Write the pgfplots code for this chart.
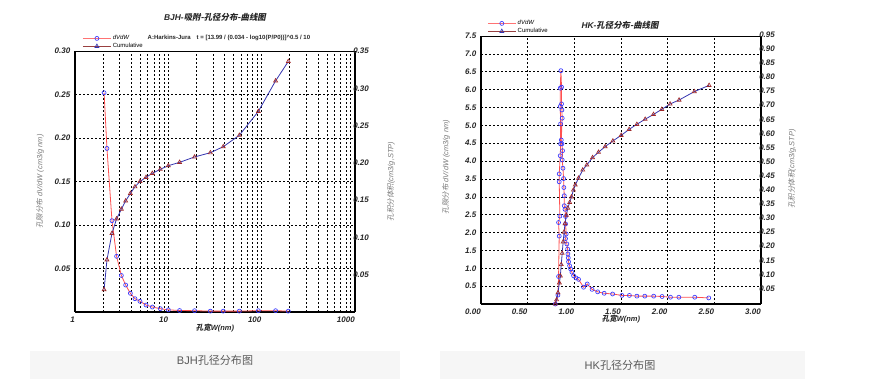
\documentclass[border=0pt]{standalone}
\usepackage{pgfplots}
\pgfplotsset{compat=1.18}
\usepackage{fontspec}
\setmainfont{Liberation Sans}
\newfontfamily\cjk{Noto Sans CJK SC}[FakeSlant=0.2]
\newfontfamily\cjkup{Noto Sans CJK SC}
\definecolor{dvred}{HTML}{FF5050}
\definecolor{dvblue}{HTML}{3A3AFF}
\definecolor{cunavy}{HTML}{3535B0}
\definecolor{cured}{HTML}{A02828}
\definecolor{legmaroon}{HTML}{994040}
\definecolor{lblgray}{HTML}{7A7A7A}
\definecolor{capbg}{HTML}{F6F6F6}
\definecolor{captext}{HTML}{5A5A5A}
\pgfplotsset{
  /pgf/number format/assume math mode=true,
  common/.style={
    scale only axis, anchor=south west,
    tick style={draw=none},
    tick label style={font=\fontsize{6}{7}\selectfont\bfseries\itshape, text=black!85},
    grid style={black, line width=0.45pt, dash pattern=on 1.6pt off 1.4pt},
    minor grid style={black, line width=0.45pt, dash pattern=on 1.6pt off 1.4pt},
    xticklabel style={anchor=north east, inner xsep=0pt},
    label style={font=\fontsize{5.6}{6.5}\selectfont\itshape, text=lblgray},
    legend image code/.code={\draw[mark repeat=2,mark phase=2,#1] plot coordinates {(0pt,0pt) (10.5pt,0pt) (21pt,0pt)};},
    legend style={draw=none, fill=none, font=\fontsize{4.5}{5}\selectfont, inner sep=0pt, row sep=-0.6pt, nodes={inner sep=0.9pt}},
    legend cell align=left,
  },
  fmt/.style={/pgf/number format/fixed, /pgf/number format/fixed zerofill, /pgf/number format/precision=#1},
  dvstyle/.style={color=dvred, line width=0.6pt, mark=o, mark size=1.5pt, mark options={color=dvblue, line width=0.5pt}},
  custyle/.style={color=cunavy, line width=0.6pt, mark=triangle, mark size=1.7pt, mark options={color=cured, line width=0.5pt}},
}
\begin{document}
\begin{tikzpicture}
\path (0,0) rectangle (653.25pt,291.75pt);
% caption boxes
\fill[capbg] (22.5pt,7.5pt) rectangle (300pt,28.5pt);
\fill[capbg] (330pt,7.5pt) rectangle (603.75pt,28.5pt);
\node[text=captext, font=\fontsize{8.3}{9}\selectfont] at (161.25pt,21.75pt) {BJH{\cjkup 孔径分布图}};
\node[text=captext, font=\fontsize{8.3}{9}\selectfont] at (465pt,18pt) {HK{\cjkup 孔径分布图}};

% ================= BJH =================
\begin{axis}[common,
  at={(56.25pt,57.75pt)}, width=210pt, height=195.75pt,
  xmode=log, xmin=1, xmax=1000, ymin=0, ymax=0.30,
  xtick={1,10,100,1000}, xticklabels={1,10,100,1000},
  minor xtick={2,3,4,5,6,7,8,9,20,30,40,50,60,70,80,90,200,300,400,500,600,700,800,900},
  ytick={0.05,0.10,0.15,0.20,0.25,0.30},
  yticklabel style={fmt=2},
  xmajorgrids, xminorgrids, ymajorgrids,
  axis x line*=bottom, axis y line*=left,
  axis line style={line width=0.9pt},
  xlabel={{\cjk 孔宽}W(nm)},
  xlabel style={at={(axis description cs:0.5,-0.061)}, anchor=center, font=\fontsize{5.6}{6.5}\selectfont\bfseries\itshape, text=black!85},
  ylabel={{\cjk 孔隙分布} dV/dW (cm3/g nm)},
  ylabel style={at={(axis description cs:-0.125,0.5)}, anchor=center},
  legend style={at={(0.025,1.0)}, anchor=south west},
]
\addlegendimage{color=dvred!80, line width=1pt, mark=o, mark size=1.5pt, mark options={color=dvblue, line width=0.5pt}}
\addlegendentry{\itshape dVdW}
\addlegendimage{color=legmaroon, line width=0.8pt, mark=triangle, mark size=1.7pt, mark options={color=cunavy, line width=0.5pt}}
\addlegendentry{Cumulative}
\addplot[dvstyle, forget plot] coordinates {
(2.05,0.252) (2.20,0.188) (2.49,0.105) (2.79,0.064) (3.14,0.042) (3.49,0.031)
(3.92,0.0215) (4.39,0.0153) (4.97,0.0123) (5.77,0.008) (6.74,0.0057) (8.21,0.0038)
(10.0,0.0025) (13.2,0.0017) (19.1,0.0015) (28.2,0.0010) (38.8,0.0010) (57.7,0.0010)
(92.1,0.0015) (141,0.0015) (193,0.0010)};
\end{axis}
\begin{axis}[common,
  at={(56.25pt,57.75pt)}, width=210pt, height=195.75pt,
  xmode=log, xmin=1, xmax=1000, ymin=0, ymax=0.35,
  xtick=\empty,
  ytick={0.05,0.10,0.15,0.20,0.25,0.30,0.35},
  yticklabel style={fmt=2, anchor=west, inner xsep=0pt, xshift=-1.5pt},
  axis x line*=top, axis y line*=right,
  x axis line style={line width=0.6pt}, y axis line style={line width=0.9pt},
  ylabel={{\cjk 孔积分体积}(cm3/g,STP)},
  ylabel style={at={(axis description cs:1.129,0.5)}, anchor=center},
]
\addplot[custyle] coordinates {
(2.05,0.030) (2.20,0.070) (2.49,0.1055) (2.79,0.125) (3.14,0.138) (3.49,0.149)
(3.92,0.159) (4.39,0.168) (4.97,0.175) (5.77,0.1806) (6.74,0.186) (8.21,0.1914)
(10.0,0.1962) (13.2,0.2007) (19.1,0.2079) (28.2,0.2136) (38.8,0.2217) (57.7,0.237)
(92.1,0.269) (141,0.310) (193,0.336)};
\end{axis}
\node[font=\fontsize{6.3}{7}\selectfont\bfseries\itshape, text=black!85] at (161.25pt,279pt) {BJH-{\cjk 吸附-孔径分布-曲线图}};
\node[anchor=west, font=\fontsize{4.5}{5}\selectfont\bfseries, text=black!85] at (107.25pt,263.25pt) {A:Harkins-Jura\quad t = [13.99 / (0.034 - log10(P/P0))]\textasciicircum0.5 / 10};

% ================= HK =================
\begin{axis}[common,
  at={(360.75pt,63.75pt)}, width=210pt, height=201pt,
  xmin=0, xmax=3, ymin=0, ymax=7.5,
  xtick={0,0.5,1,1.5,2,2.5,3},
  xticklabel style={fmt=2},
  ytick={0.5,1,1.5,2,2.5,3,3.5,4,4.5,5,5.5,6,6.5,7,7.5},
  yticklabel style={fmt=1},
  xmajorgrids, ymajorgrids,
  axis x line*=bottom, axis y line*=left,
  axis line style={line width=0.9pt},
  xlabel={{\cjk 孔宽}W(nm)},
  xlabel style={at={(axis description cs:0.5,-0.056)}, anchor=center, font=\fontsize{5.6}{6.5}\selectfont\bfseries\itshape, text=black!85},
  ylabel={{\cjk 孔隙分布} dV/dW (cm3/g nm)},
  ylabel style={at={(axis description cs:-0.125,0.511)}, anchor=center},
  legend style={at={(0.021,1.0)}, anchor=south west},
]
\addlegendimage{color=dvred!80, line width=1pt, mark=o, mark size=1.5pt, mark options={color=dvblue, line width=0.5pt}}
\addlegendentry{\itshape dVdW}
\addlegendimage{color=legmaroon, line width=0.8pt, mark=triangle, mark size=1.7pt, mark options={color=cunavy, line width=0.5pt}}
\addlegendentry{Cumulative}
\addplot[dvstyle, forget plot] coordinates {
(0.796,0.00) (0.824,0.25) (0.831,0.77) (0.838,1.90) (0.831,2.28) (0.845,2.46)
(0.838,3.42) (0.838,3.64) (0.849,4.15) (0.853,4.48) (0.853,5.04) (0.849,5.53)
(0.849,6.04) (0.856,6.53) (0.863,6.07) (0.863,5.60) (0.867,5.43) (0.870,5.20)
(0.860,4.59) (0.867,4.48) (0.874,4.29) (0.870,4.03) (0.878,3.80) (0.885,3.51)
(0.888,3.26) (0.892,3.03) (0.892,2.75) (0.900,2.65) (0.906,2.45) (0.906,2.24)
(0.913,1.96) (0.906,1.83) (0.920,1.68) (0.928,1.54) (0.931,1.40) (0.935,1.29)
(0.938,1.18) (0.949,1.07) (0.960,0.98) (0.974,0.89) (0.992,0.79) (1.017,0.73)
(1.045,0.69) (1.099,0.47) (1.138,0.56) (1.190,0.41) (1.250,0.34) (1.320,0.30)
(1.410,0.28) (1.510,0.24) (1.590,0.24) (1.670,0.22) (1.755,0.22) (1.850,0.22)
(1.940,0.21) (2.030,0.19) (2.120,0.19) (2.290,0.19) (2.440,0.17)};
\end{axis}
\begin{axis}[common,
  at={(360.75pt,63.75pt)}, width=210pt, height=201pt,
  xmin=0, xmax=3, ymin=0, ymax=0.95,
  xtick=\empty,
  ytick={0.05,0.10,0.15,0.20,0.25,0.30,0.35,0.40,0.45,0.50,0.55,0.60,0.65,0.70,0.75,0.80,0.85,0.90,0.95},
  yticklabel style={fmt=2, anchor=west, inner xsep=0pt, xshift=-1.5pt, yshift=1pt},
  axis x line*=top, axis y line*=right,
  x axis line style={line width=0.6pt}, y axis line style={line width=0.9pt},
  ylabel={{\cjk 孔积分体积}(cm3/g,STP)},
  ylabel style={at={(axis description cs:1.111,0.504)}, anchor=center},
]
\addplot[custyle] coordinates {
(0.796,0.000) (0.810,0.015) (0.825,0.040) (0.840,0.075) (0.850,0.100) (0.860,0.140)
(0.870,0.180) (0.880,0.220) (0.890,0.255) (0.900,0.285) (0.915,0.315) (0.930,0.340)
(0.950,0.360) (0.970,0.380) (0.990,0.404) (1.010,0.422) (1.045,0.446) (1.090,0.475)
(1.134,0.493) (1.195,0.519) (1.259,0.538) (1.330,0.558) (1.413,0.578) (1.502,0.598)
(1.587,0.619) (1.670,0.637) (1.759,0.655) (1.848,0.672) (1.937,0.690) (2.026,0.709)
(2.122,0.723) (2.286,0.753) (2.444,0.775)};
\end{axis}
\node[font=\fontsize{6.3}{7}\selectfont\bfseries\itshape, text=black!85] at (465pt,273pt) {HK-{\cjk 孔径分布-曲线图}};
\end{tikzpicture}
\end{document}
